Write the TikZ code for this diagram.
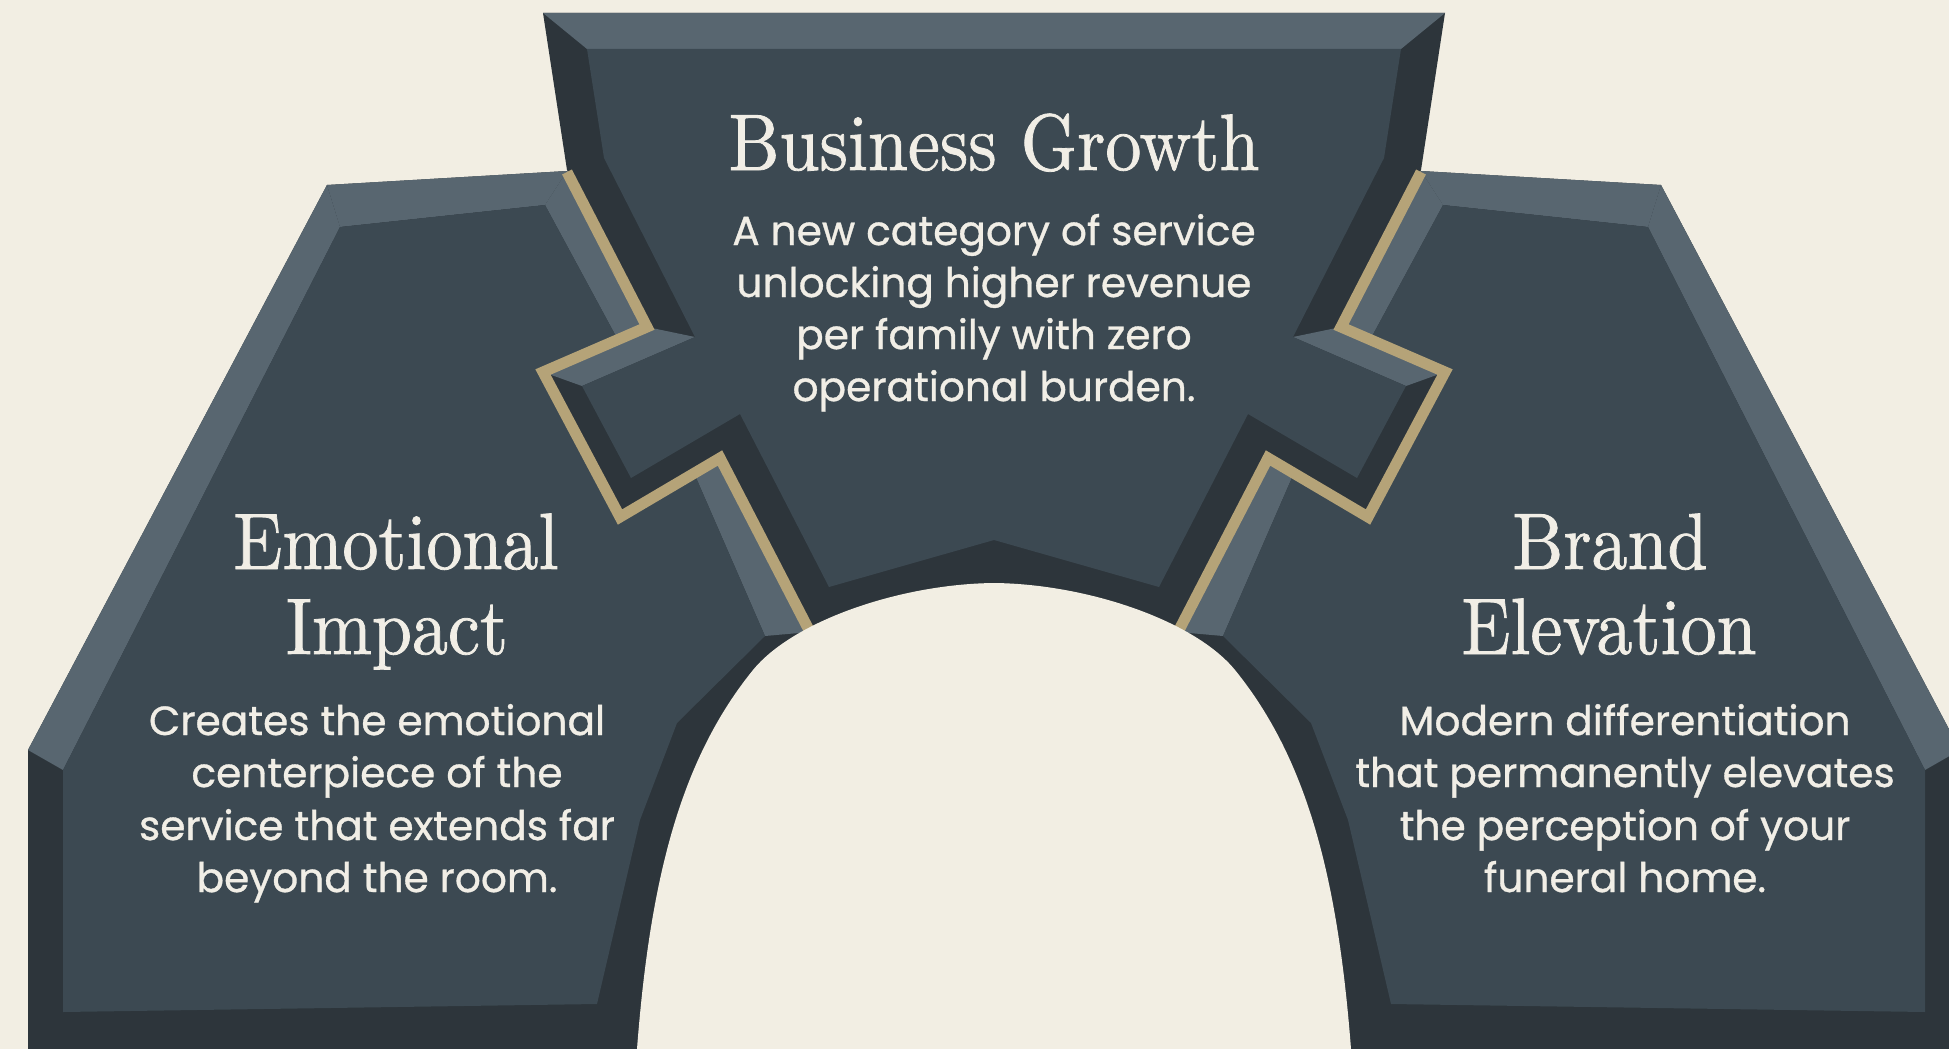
\documentclass[tikz,border=0pt]{standalone}
\usepackage{fontspec}
\usepackage{graphicx}
\newfontfamily\bodyfont{Poppins}[FakeBold=0.8]
\newfontfamily\titlefont{lmroman10-regular.otf}[FakeBold=1]
\definecolor{bgC}{HTML}{F2EEE3}
\definecolor{faceC}{HTML}{3C4952}
\definecolor{liteC}{HTML}{586670}
\definecolor{darkC}{HTML}{2D353B}
\definecolor{goldC}{HTML}{B5A378}
\definecolor{inkC}{HTML}{F1EEE6}
\tikzset{
  bevelDark/.style={fill=darkC},
  bevelLight/.style={fill=liteC},
  faceFill/.style={fill=faceC},
  seamLine/.style={draw=goldC, line width=11pt, line join=miter},
  titleTxt/.style={text=inkC, inner sep=0pt, anchor=base, font=\titlefont\fontsize{80}{87}\selectfont},
  bodyTxt/.style={text=inkC, inner sep=0pt, anchor=base, font=\bodyfont\fontsize{40.7}{52}\selectfont}
}
\newcommand\SideBlock{%
  \fill[bevelDark] (327,185) -- (567,171) -- (647,327) -- (543,372) -- (620,517) -- (720,458) -- (810,632) -- (700,1060) -- (28,1060) -- (28,750) -- cycle;
  \fill[bevelLight] (327,185) -- (567,171) -- (545,205) -- (340,227) -- cycle;
  \fill[bevelLight] (327,185) -- (340,227) -- (63,770) -- (28,750) -- cycle;
  \fill[bevelLight] (567,171) -- (647,327) -- (618,340) -- (545,205) -- cycle;
  \fill[bevelLight] (720,458) -- (810,632) -- (765,636) -- (694,473) -- cycle;
  \fill[faceFill] (340,227) -- (545,205) -- (618,340) -- (543,372) -- (620,517) -- (694,473) -- (765,636) -- (677,723) -- (640,820) -- (597,1004) -- (63,1012) -- (63,770) -- cycle;
}
\begin{document}
\begin{tikzpicture}[x=1pt,y=-1pt]
\useasboundingbox (0,0) rectangle (1949,1049);
\fill[bgC] (0,0) rectangle (1949,1049);
\clip (0,0) rectangle (1949,1049);
% side blocks
\begin{scope}
  \SideBlock
\end{scope}
\begin{scope}[xshift=1988pt, xscale=-1]
  \SideBlock
\end{scope}
% centre block
\fill[bevelDark] (543,13) -- (1445,13) -- (1421,170) -- (1341,327) -- (1445,372) -- (1368,517) -- (1268,458) -- (1178,632) -- (1178,700) -- (810,700) -- (810,632) -- (720,458) -- (620,517) -- (543,372) -- (647,327) -- (567,170) -- cycle;
\fill[bevelLight] (543,13) -- (1445,13) -- (1401,49) -- (587,49) -- cycle;
\fill[bevelLight] (647,327) -- (543,372) -- (582,386) -- (695,337) -- cycle;
\fill[bevelLight] (1341,327) -- (1445,372) -- (1406,386) -- (1293,337) -- cycle;
\fill[faceFill] (587,49) -- (1401,49) -- (1384,158) -- (1293,337) -- (1406,386) -- (1357,478) -- (1248,414) -- (1159,587) -- (994,540) -- (829,587) -- (740,414) -- (631,478) -- (582,386) -- (695,337) -- (604,158) -- cycle;
% gold seams
\draw[seamLine] (567,172) -- (647,327) -- (543,372) -- (620,517) -- (720,458) -- (810,632) -- (818,650);
\draw[seamLine] (1421,172) -- (1341,327) -- (1445,372) -- (1368,517) -- (1268,458) -- (1178,632) -- (1170,650);
% arch opening
\fill[bgC] (637,1070) -- (637,1049) .. controls (650,880) and (680,760) .. (753,670) .. controls (793,621) and (900,584) .. (994,583) .. controls (1088,584) and (1195,621) .. (1235,670) .. controls (1308,760) and (1338,880) .. (1351,1049) -- (1351,1070) -- cycle;
% texts
\node[titleTxt] (tBusiness) at (994,170) {\scalebox{0.9}[1]{Business Growth}};
\node[bodyTxt] (bB1) at (994,245) {A new category of service};
\node[bodyTxt] (bB2) at (994,297) {unlocking higher revenue};
\node[bodyTxt] (bB3) at (994,349) {per family with zero};
\node[bodyTxt] (bB4) at (994,401) {operational burden.};
\node[titleTxt] (tEmo1) at (396,569) {\scalebox{0.9}[1]{Emotional}};
\node[titleTxt] (tEmo2) at (397,654) {\scalebox{0.9}[1]{Impact}};
\node[bodyTxt] (bE1) at (377,735) {Creates the emotional};
\node[bodyTxt] (bE2) at (377,787) {centerpiece of the};
\node[bodyTxt] (bE3) at (377,840) {service that extends far};
\node[bodyTxt] (bE4) at (377,892) {beyond the room.};
\node[titleTxt] (tBr1) at (1610,569) {\scalebox{0.9}[1]{Brand}};
\node[titleTxt] (tBr2) at (1609,654) {\scalebox{0.9}[1]{Elevation}};
\node[bodyTxt] (bR1) at (1625,735) {Modern differentiation};
\node[bodyTxt] (bR2) at (1625,787) {that permanently elevates};
\node[bodyTxt] (bR3) at (1625,840) {the perception of your};
\node[bodyTxt] (bR4) at (1625,892) {funeral home.};
\end{tikzpicture}
\end{document}
